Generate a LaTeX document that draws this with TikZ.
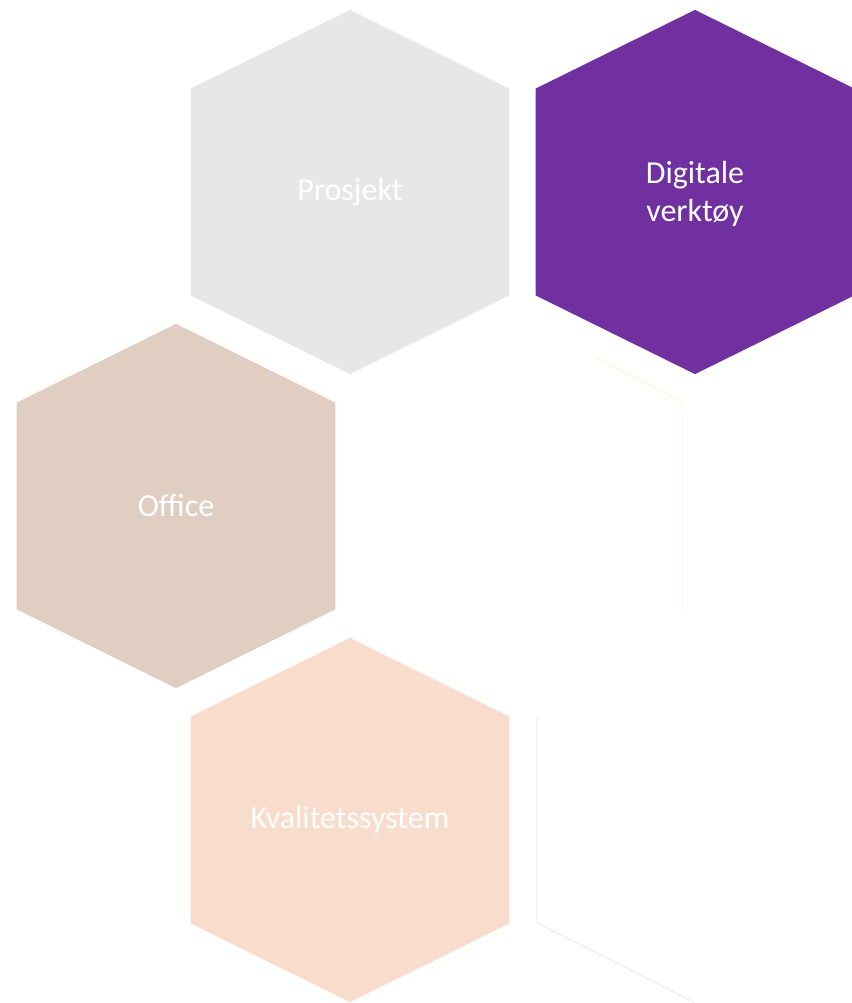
\documentclass[tikz,border=0pt]{standalone}
\usepackage{fontspec}
\setmainfont{Carlito}
\usepackage{tikz}

\definecolor{prosjektgray}{HTML}{E7E7E7}
\definecolor{digitalpurple}{HTML}{7030A0}
\definecolor{officebeige}{HTML}{E0CEC2}
\definecolor{kvalitetpeach}{HTML}{F9DDCC}
\definecolor{faintyellow}{HTML}{FFF3CC}
\definecolor{faintgray}{HTML}{ECE8DE}

% hexagon with centre (#1,#2), in pixel units
\newcommand{\hexcell}[2]{(#1,#2-183) -- (#1+160,#2-104) -- (#1+160,#2+104) -- (#1,#2+183) -- (#1-160,#2+104) -- (#1-160,#2-104) -- cycle}

\tikzset{
  celltext/.style={text=white, font=\fontsize{24}{29}\selectfont, align=center},
  cellborder/.style={draw=white, line width=1pt}
}

\begin{document}
\begin{tikzpicture}[x=0.75pt, y=-0.75pt]
    \fill[white] (0, 0) rectangle (851, 1003);
    \useasboundingbox (0, 0) rectangle (851, 1003);

    \filldraw[cellborder, fill=prosjektgray] \hexcell{350}{192};
    \node[celltext] (prosjekt) at (350, 192) {Prosjekt};

    \filldraw[cellborder, fill=digitalpurple] \hexcell{695}{192};
    \node[celltext] (digitale) at (695, 194) {Digitale\\verktøy};

    \filldraw[cellborder, fill=officebeige] \hexcell{176}{506};
    \node[celltext] (office) at (176, 506) {Office};

    \filldraw[cellborder, fill=kvalitetpeach] \hexcell{350}{820};
    \node[celltext] (kvalitet) at (350, 820) {Kvalitetssystem};

    % faint empty cells
    \draw[faintyellow, line width=0.6pt] (597, 358) -- (682, 402) -- (682, 610);
    \draw[faintgray, line width=0.6pt] (537, 717) -- (537, 923) -- (694, 1002);
\end{tikzpicture}
\end{document}
